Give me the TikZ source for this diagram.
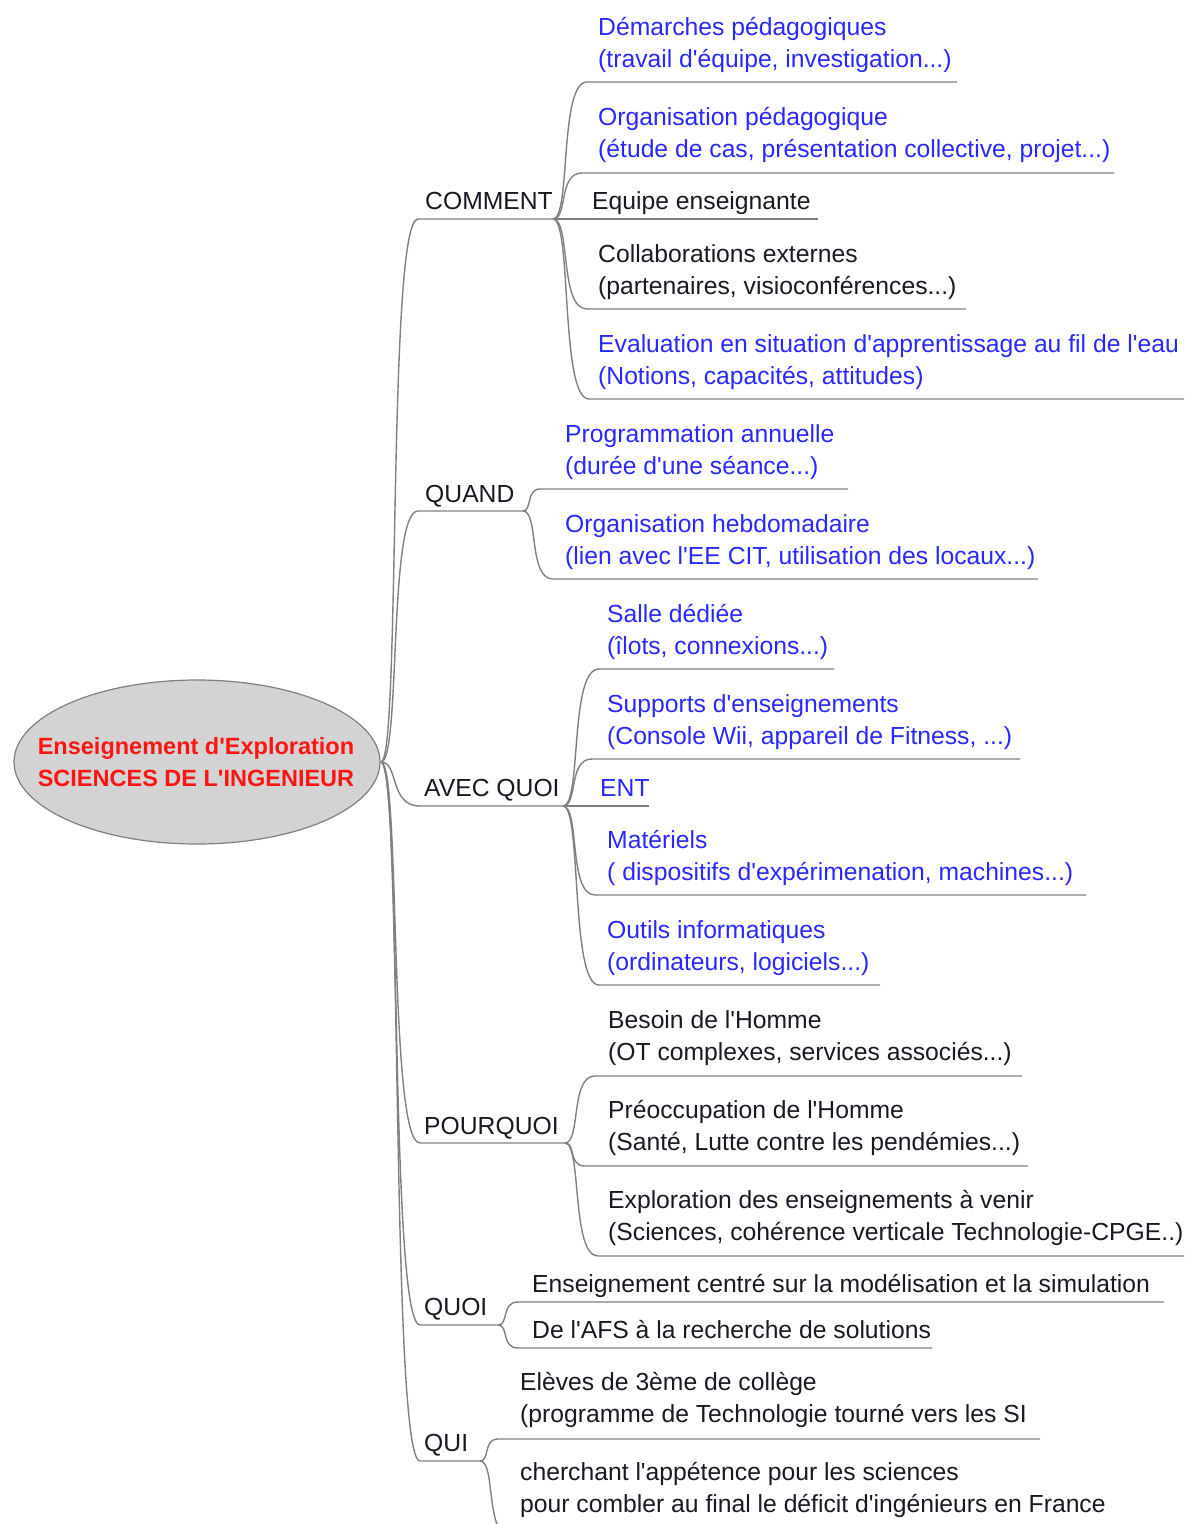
\documentclass[tikz,border=0pt]{standalone}
\usepackage{fontspec}
\setmainfont{Liberation Sans}[Ligatures=TeXOff]
\usetikzlibrary{shapes.geometric,calc}
\definecolor{mmblue}{RGB}{40,40,255}
\definecolor{mmblack}{RGB}{25,25,35}
\definecolor{mmline}{RGB}{128,128,128}
\definecolor{mmfill}{RGB}{211,211,211}
\definecolor{mmred}{RGB}{255,20,20}
\newcommand\mmlines[1]{\begin{tabular}[t]{@{}l@{}}#1\end{tabular}}
% branch: junction, underline start, underline end, first control offset, second control offset
\newcommand\mmbr[5]{\draw[conn] (#1) .. controls ($(#1)+(#4,0)$) and ($(#2 -| #1)+(#5,0)$) .. (#2) -- (#3);}
\begin{document}
\begin{tikzpicture}[x=1pt,y=-1pt,
  conn/.style={draw=mmline,line width=1.4pt},
  itm/.style={anchor=base west,inner sep=0pt,font=\fontsize{24.7}{32}\selectfont,text=mmblack},
  itb/.style={itm,text=mmblue}]
\useasboundingbox (0,0) rectangle (1184,1524);
\clip (0,0) rectangle (1184,1524);

% root
\node[ellipse,draw=mmline,line width=1.2pt,fill=mmfill,minimum width=366pt,minimum height=164pt,inner sep=0pt] (root) at (197,762) {};
\node[inner sep=0pt,text=mmred,font=\bfseries\fontsize{23.5}{32}\selectfont,align=left] (rootlabel) at (196,762)
  {Enseignement d'Exploration\\SCIENCES DE L'INGENIEUR};
\coordinate (rj) at (381,762);

% main branches
\coordinate (Cs) at (418,219);  \coordinate (Cj) at (553,219);
\coordinate (Qs) at (418,511);  \coordinate (Qj) at (523,511);
\coordinate (As) at (420,806);  \coordinate (Aj) at (563,806);
\coordinate (Ps) at (420,1143); \coordinate (Pj) at (565,1143);
\coordinate (Ws) at (420,1325); \coordinate (Wj) at (498,1325);
\coordinate (Us) at (420,1461); \coordinate (Uj) at (480,1461);
\node[itm] (tC) at (425,209) {COMMENT};
\node[itm] (tQ) at (425,502) {QUAND};
\node[itm] (tA) at (424,796) {AVEC QUOI};
\node[itm] (tP) at (424,1134) {POURQUOI};
\node[itm] (tW) at (424,1315) {QUOI};
\node[itm] (tU) at (424,1451) {QUI};
\mmbr{rj}{Cs}{Cj}{20}{6}
\mmbr{rj}{Qs}{Qj}{20}{7}
\mmbr{rj}{As}{Aj}{18}{8}
\mmbr{rj}{Ps}{Pj}{20}{7}
\mmbr{rj}{Ws}{Wj}{21}{8}
\mmbr{rj}{Us}{Uj}{22}{9}

% COMMENT children
\node[itb] (c1) at (598,35) {\mmlines{Démarches pédagogiques\\(travail d'équipe, investigation...)}};
\node[itb] (c2) at (598,125) {\mmlines{Organisation pédagogique\\(étude de cas, présentation collective, projet...)}};
\node[itm] (c3) at (592,209) {Equipe enseignante};
\node[itm] (c4) at (598,262) {\mmlines{Collaborations externes\\(partenaires, visioconférences...)}};
\node[itb] (c5) at (598,352) {\mmlines{Evaluation en situation d'apprentissage au fil de l'eau\\(Notions, capacités, attitudes)}};
\coordinate (c1a) at (587,82);  \coordinate (c1b) at (957,82);
\coordinate (c2a) at (582,173); \coordinate (c2b) at (1114,173);
\coordinate (c3b) at (818,219);
\coordinate (c4a) at (587,309); \coordinate (c4b) at (966,309);
\coordinate (c5a) at (589,399); \coordinate (c5b) at (1190,399);
\mmbr{Cj}{c1a}{c1b}{18}{6}
\mmbr{Cj}{c2a}{c2b}{15}{5}
\draw[conn] (Cj) -- (c3b);
\mmbr{Cj}{c4a}{c4b}{18}{6}
\mmbr{Cj}{c5a}{c5b}{19}{7}

% QUAND children
\node[itb] (q1) at (565,442) {\mmlines{Programmation annuelle\\(durée d'une séance...)}};
\node[itb] (q2) at (565,532) {\mmlines{Organisation hebdomadaire\\(lien avec l'EE CIT, utilisation des locaux...)}};
\coordinate (q1a) at (540,489); \coordinate (q1b) at (848,489);
\coordinate (q2a) at (553,579); \coordinate (q2b) at (1038,579);
\mmbr{Qj}{q1a}{q1b}{9}{3}
\mmbr{Qj}{q2a}{q2b}{16}{5}

% AVEC QUOI children
\node[itb] (a1) at (607,622) {\mmlines{Salle dédiée\\(îlots, connexions...)}};
\node[itb] (a2) at (607,712) {\mmlines{Supports d'enseignements\\(Console Wii, appareil de Fitness, ...)}};
\node[itb] (a3) at (600,796) {ENT};
\node[itb] (a4) at (607,848) {\mmlines{Matériels\\( dispositifs d'expérimenation, machines...)}};
\node[itb] (a5) at (607,938) {\mmlines{Outils informatiques\\(ordinateurs, logiciels...)}};
\coordinate (a1a) at (599,669); \coordinate (a1b) at (834,669);
\coordinate (a2a) at (592,759); \coordinate (a2b) at (1020,759);
\coordinate (a3b) at (649,806);
\coordinate (a4a) at (595,895); \coordinate (a4b) at (1086,895);
\coordinate (a5a) at (599,985); \coordinate (a5b) at (880,985);
\mmbr{Aj}{a1a}{a1b}{19}{6}
\mmbr{Aj}{a2a}{a2b}{15}{5}
\draw[conn] (Aj) -- (a3b);
\mmbr{Aj}{a4a}{a4b}{17}{5}
\mmbr{Aj}{a5a}{a5b}{19}{7}

% POURQUOI children
\node[itm] (p1) at (608,1028) {\mmlines{Besoin de l'Homme\\(OT complexes, services associés...)}};
\node[itm] (p2) at (608,1118) {\mmlines{Préoccupation de l'Homme\\(Santé, Lutte contre les pendémies...)}};
\node[itm] (p3) at (608,1208) {\mmlines{Exploration des enseignements à venir\\(Sciences, cohérence verticale Technologie-CPGE..)}};
\coordinate (p1a) at (595,1076); \coordinate (p1b) at (1022,1076);
\coordinate (p2a) at (585,1166); \coordinate (p2b) at (1028,1166);
\coordinate (p3a) at (598,1256); \coordinate (p3b) at (1184,1256);
\mmbr{Pj}{p1a}{p1b}{16}{5}
\mmbr{Pj}{p2a}{p2b}{11}{3}
\mmbr{Pj}{p3a}{p3b}{17}{6}

% QUOI children
\node[itm] (w1) at (532,1292) {Enseignement centré sur la modélisation et la simulation};
\node[itm] (w2) at (532,1338) {De l'AFS à la recherche de solutions};
\coordinate (w1a) at (518,1302); \coordinate (w1b) at (1164,1302);
\coordinate (w2a) at (518,1348); \coordinate (w2b) at (932,1348);
\mmbr{Wj}{w1a}{w1b}{11}{3}
\mmbr{Wj}{w2a}{w2b}{11}{3}

% QUI children
\node[itm] (u1) at (520,1390) {\mmlines{Elèves de 3ème de collège\\(programme de Technologie tourné vers les SI}};
\node[itm] (u2) at (520,1480) {\mmlines{cherchant l'appétence pour les sciences\\pour combler au final le déficit d'ingénieurs en France}};
\coordinate (u1a) at (498,1439); \coordinate (u1b) at (1040,1439);
\coordinate (u2a) at (510,1536); \coordinate (u2b) at (1110,1536);
\mmbr{Uj}{u1a}{u1b}{10}{3}
\mmbr{Uj}{u2a}{u2b}{16}{5}
\end{tikzpicture}
\end{document}
